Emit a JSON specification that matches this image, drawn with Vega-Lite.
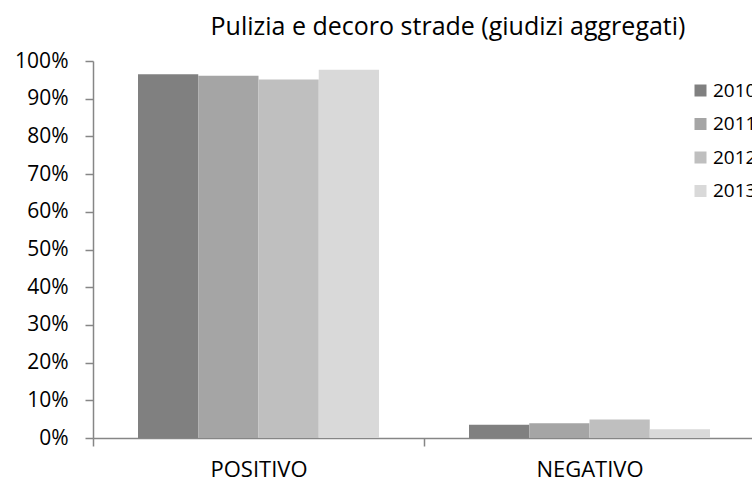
{
  "$schema": "https://vega.github.io/schema/vega-lite/v6.json",
  "autosize": {"type": "none"},
  "padding": {"left": 93, "top": 61, "right": 0, "bottom": 45},
  "width": 662,
  "height": 377,
  "background": "white",
  "title": {
    "text": "Pulizia e decoro strade (giudizi aggregati)",
    "font": "Open Sans",
    "fontSize": 25,
    "fontWeight": "normal",
    "color": "#000000",
    "anchor": "middle",
    "dx": 24,
    "offset": 10
  },
  "data": {
    "values": [
      {"giudizio": "POSITIVO", "anno": "2010", "valore": 0.965},
      {"giudizio": "POSITIVO", "anno": "2011", "valore": 0.961},
      {"giudizio": "POSITIVO", "anno": "2012", "valore": 0.951},
      {"giudizio": "POSITIVO", "anno": "2013", "valore": 0.977},
      {"giudizio": "NEGATIVO", "anno": "2010", "valore": 0.035},
      {"giudizio": "NEGATIVO", "anno": "2011", "valore": 0.039},
      {"giudizio": "NEGATIVO", "anno": "2012", "valore": 0.049},
      {"giudizio": "NEGATIVO", "anno": "2013", "valore": 0.023}
    ]
  },
  "mark": {"type": "bar"},
  "encoding": {
    "x": {
      "field": "giudizio",
      "type": "nominal",
      "sort": ["POSITIVO", "NEGATIVO"],
      "scale": {"paddingInner": 0, "paddingOuter": 0},
      "axis": {
        "title": null,
        "labelAngle": 0,
        "labelFont": "Open Sans",
        "labelFontSize": 22,
        "labelColor": "#000000",
        "labelPadding": 13,
        "domainColor": "#868686",
        "domainWidth": 1.5,
        "tickColor": "#868686",
        "tickWidth": 1.5,
        "tickSize": 8,
        "tickBand": "extent"
      }
    },
    "xOffset": {"field": "anno", "type": "nominal", "scale": {"paddingInner": 0, "paddingOuter": 0.747}},
    "y": {
      "field": "valore",
      "type": "quantitative",
      "scale": {"domain": [0, 1], "nice": false},
      "axis": {
        "title": null,
        "format": ".0%",
        "values": [0, 0.1, 0.2, 0.3, 0.4, 0.5, 0.6, 0.7, 0.8, 0.9, 1],
        "grid": false,
        "labelFont": "Open Sans",
        "labelFontSize": 21,
        "labelColor": "#000000",
        "labelPadding": 17,
        "domainColor": "#868686",
        "domainWidth": 1.5,
        "tickColor": "#868686",
        "tickWidth": 1.5,
        "tickSize": 8
      }
    },
    "color": {
      "field": "anno",
      "type": "nominal",
      "scale": {"domain": ["2010", "2011", "2012", "2013"], "range": ["#808080", "#a5a5a5", "#bfbfbf", "#d9d9d9"]},
      "legend": {
        "title": null,
        "orient": "none",
        "legendX": 598,
        "legendY": 20,
        "padding": 0,
        "symbolType": "square",
        "symbolSize": 144,
        "symbolStrokeWidth": 0,
        "symbolOpacity": 1,
        "labelFont": "Open Sans",
        "labelFontSize": 19,
        "labelColor": "#000000",
        "labelOffset": 3,
        "rowPadding": 13.5
      }
    }
  },
  "config": {"view": {"stroke": null}}
}
